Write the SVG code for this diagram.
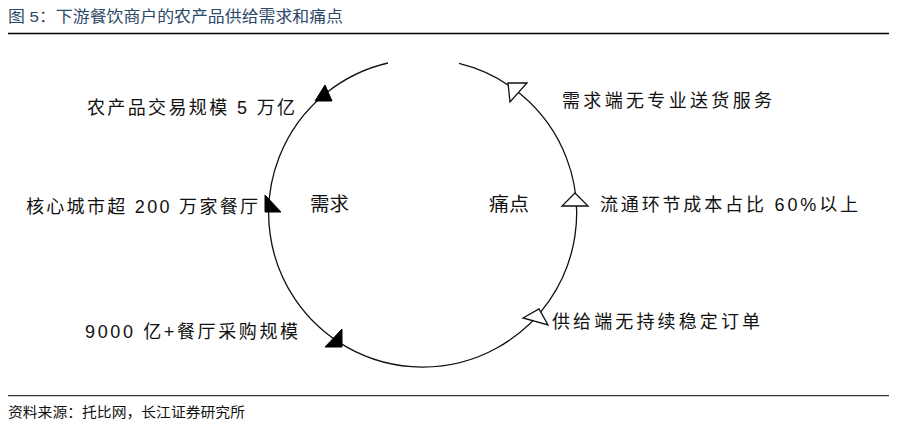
<svg xmlns="http://www.w3.org/2000/svg" width="897" height="428" viewBox="0 0 897 428">
<style>
.title{font-family:"Liberation Sans","Noto Sans CJK SC",sans-serif;font-size:15.5px;fill:#2c4868}
.lbl{font-family:"Liberation Sans","Noto Sans CJK SC",sans-serif;font-size:18px;fill:#111}
.ctr{font-family:"Noto Sans CJK SC",sans-serif;font-size:19px;fill:#111}
.src{font-family:"Liberation Sans","Noto Sans CJK SC",sans-serif;font-size:14px;fill:#111}
.arc{fill:none;stroke:#111;stroke-width:1.3}
.fill{fill:#000;stroke:#000;stroke-width:1}
.open{fill:#fff;stroke:#111;stroke-width:1.3;stroke-linejoin:miter}
</style>
<rect width="897" height="428" fill="#fff"/>
<g id="header">
<text class="title" x="8" y="22" textLength="335" lengthAdjust="spacingAndGlyphs">图 5：下游餐饮商户的农产品供给需求和痛点</text>
<line x1="8" y1="33.5" x2="889" y2="33.5" stroke="#000" stroke-width="1.6"/>
</g>
<g id="connectors">
<path class="arc" d="M 388 63 A 154 154 0 1 0 459 63.4"/>
<polygon class="fill" points="325,85 315,101 332,101"/>
<polygon class="fill" points="265,195 265,212 281,212"/>
<polygon class="fill" points="325,347 342,329 342,347"/>
<polygon class="open" points="508,83 527,83 510,102"/>
<polygon class="open" points="575,193 562,206 588,206"/>
<polygon class="open" points="523,318 539,309 548,325"/>
</g>
<g id="node-demand">
<text class="ctr" x="310" y="211" textLength="39" lengthAdjust="spacingAndGlyphs">需求</text>
</g>
<g id="node-pain">
<text class="ctr" x="489" y="211" textLength="40" lengthAdjust="spacingAndGlyphs">痛点</text>
</g>
<g id="node-d1">
<text class="lbl" x="87" y="114" textLength="208" lengthAdjust="spacing">农产品交易规模 5 万亿</text>
</g>
<g id="node-d2">
<text class="lbl" x="26" y="213" textLength="232" lengthAdjust="spacing">核心城市超 200 万家餐厅</text>
</g>
<g id="node-d3">
<text class="lbl" x="85" y="338" textLength="213" lengthAdjust="spacing">9000 亿+餐厅采购规模</text>
</g>
<g id="node-p1">
<text class="lbl" x="562" y="107" textLength="210" lengthAdjust="spacing">需求端无专业送货服务</text>
</g>
<g id="node-p2">
<text class="lbl" x="600" y="211" textLength="258" lengthAdjust="spacing">流通环节成本占比 60%以上</text>
</g>
<g id="node-p3">
<text class="lbl" x="552" y="328" textLength="208" lengthAdjust="spacing">供给端无持续稳定订单</text>
</g>
<g id="footer">
<line x1="8" y1="395.7" x2="889" y2="395.7" stroke="#000" stroke-width="1"/>
<text class="src" x="8" y="417" textLength="237" lengthAdjust="spacingAndGlyphs">资料来源：托比网，长江证券研究所</text>
</g>
</svg>
